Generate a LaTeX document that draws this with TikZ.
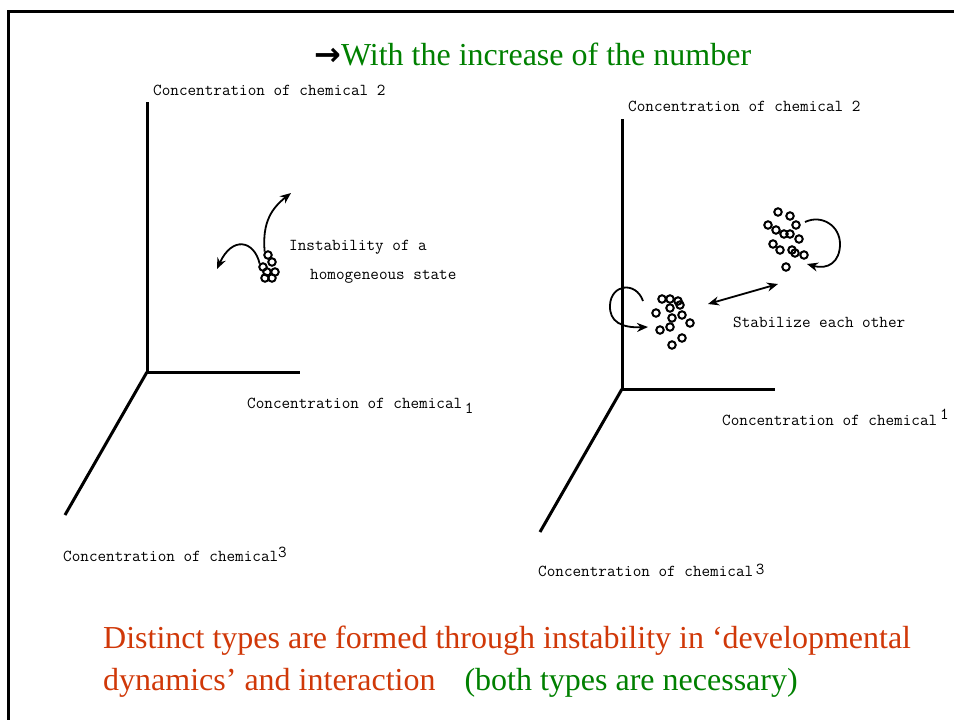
\documentclass[tikz,border=0pt]{standalone}
\usepackage{fontspec}
\setmainfont{Liberation Serif}
\newfontfamily\arrowfont{DejaVu Sans}
\usepackage{xcolor}
\usetikzlibrary{arrows.meta}
\definecolor{slidegreen}{RGB}{0,128,0}
\definecolor{slidered}{RGB}{208,56,8}

\begin{document}
\begin{tikzpicture}[x=1pt,y=-1pt,
% common options for the axis texts:
axlabel/.style = {font=\ttfamily\addfontfeature{FakeBold=0.8}\fontsize{16.7}{18}\selectfont, anchor=base west, inner sep=0},
% common options for the slide texts:
slidetext/.style = {font=\fontsize{32}{36}\selectfont, anchor=base west, inner sep=0},
% common options for the cells:
cell/.style = {circle, draw, line width=2pt, minimum size=7.5pt, inner sep=0},
axis/.style = {line width=3pt},
flow/.style = {line width=1.8pt, -{Stealth[length=11pt,width=9pt]}}]
\useasboundingbox (0,0) rectangle (954,720);
% frame of the slide
\coordinate (F0) at (8,720);
\coordinate (F1) at (8,11);
\coordinate (F2) at (954,11);
\draw[line width=3pt] (F0) -- (F1) -- (F2);
\node[slidetext,text=slidegreen] (title) at (314,65) {\textcolor{black}{\arrowfont\bfseries\fontsize{32}{34}\selectfont →}With the increase of the number};
% left axes
\coordinate (O1) at (147,372);
\coordinate (Y1) at (147,102);
\coordinate (X1) at (300,372);
\coordinate (Z1) at (65,515);
\draw[axis] (Y1) -- (O1) -- (X1);
\draw[axis] (O1) -- (Z1);
\node[axlabel] (L2) at (153,95) {Concentration of chemical 2};
\node[axlabel] (L1) at (247,408) {Concentration of chemical\,\raisebox{-5pt}{1}};
\node[axlabel] (L3) at (63,561) {Concentration of chemical\raisebox{4pt}{3}};
\foreach \p [count=\i] in {(268,255),(272,262),(263,267),(267,272),(275,272),(265,278),(272,278)}
  \node[cell] (l\i) at \p {};
\coordinate (up) at (291,193);
\coordinate (side) at (217,269);
\draw[flow] (l1.north west) .. controls (262,222) and (272,208) .. (up);
\draw[flow] (l3.north west) .. controls (254,240) and (232,236) .. (side);
\node[axlabel] (inst1) at (289,250) {Instability of a};
\node[axlabel] (inst2) at (310,279) {homogeneous state};
% right axes
\coordinate (O2) at (622,389);
\coordinate (Y2) at (622,119);
\coordinate (X2) at (775,389);
\coordinate (Z2) at (540,532);
\draw[axis] (Y2) -- (O2) -- (X2);
\draw[axis] (O2) -- (Z2);
\node[axlabel] (R2) at (628,111) {Concentration of chemical 2};
\node[axlabel] (R1) at (722,425) {Concentration of chemical\,\raisebox{6pt}{1}};
\node[axlabel] (R3) at (538,576) {Concentration of chemical\,\raisebox{2pt}{3}};
\foreach \p [count=\i] in {(662,299),(670,299),(678,301),(656,313),(670,308),(680,305),(682,315),
  (672,318),(690,323),(660,330),(670,327),(682,338),(672,345)}
  \node[cell] (a\i) at \p {};
\foreach \p [count=\i] in {(778,212),(790,216),(768,225),(796,225),(776,230),(784,234),(790,234),
  (799,239),(773,244),(780,250),(792,250),(795,253),(804,255),(786,267)}
  \node[cell] (b\i) at \p {};
\coordinate (aloop) at (648,327);
\coordinate (bloop) at (807,264);
\draw[flow] (643,301) .. controls (636,281) and (611,284) .. (610,305)
  .. controls (609,322) and (622,328) .. (aloop);
\draw[flow] (805,222) .. controls (822,214) and (840,226) .. (840,244)
  .. controls (840,262) and (828,270) .. (bloop);
\coordinate (pairA) at (708,304);
\coordinate (pairB) at (778,284);
\draw[line width=1.8pt, {Stealth[length=11pt,width=9pt]}-{Stealth[length=11pt,width=9pt]}] (pairA) -- (pairB);
\node[axlabel] (stab) at (733,327) {Stabilize each other};
% bottom note
\node[slidetext,text=slidered] (note1) at (103,648) {Distinct types are formed through instability in ‘developmental};
\node[slidetext,text=slidered] (note2) at (103,690) {dynamics’ and interaction\hspace{29pt}\textcolor{slidegreen}{(both types are necessary)}};
\end{tikzpicture}
\end{document}
